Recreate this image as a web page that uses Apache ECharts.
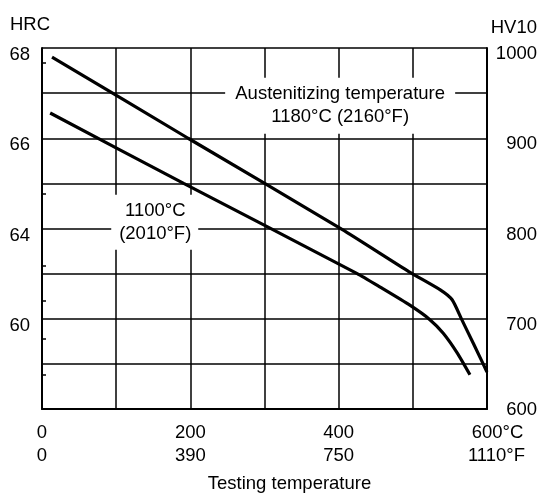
<!DOCTYPE html>
<html>
<head>
<meta charset="utf-8">
<script src="https://cdn.jsdelivr.net/npm/echarts@6/dist/echarts.min.js"></script>
<style>
html,body{margin:0;padding:0;background:#fff;}
#chart{width:541px;height:498px;}
</style>
</head>
<body>
<div id="chart"></div>
<script>
// Testing temperature (°C) and hardness (HV10)
const upperT  = [13.5, 197, 404.5, 495, 537, 553, 566, 582, 600];
const upperHV = [990, 900, 799, 752, 732, 721, 699, 672, 641];
const lowerT  = [11, 191, 425, 456, 496, 523, 541, 560, 577];
const lowerHV = [928, 850, 750, 735, 715, 699, 684, 662, 638];

// Tick labels
const xTicksC = [0, 200, 400, 600];
const xTicksF = ['0', '390', '750', '1110'];
const hvTicks = [600, 700, 800, 900, 1000];
const hrcAt = [1000, 900, 800, 700];
const hrcLabels = ['68', '66', '64', '60'];
const hrcMinor = [984, 839, 759, 720, 678, 638];

// Annotation texts and anchor (°C, HV)
const annUpper = { text: 'Austenitizing temperature\n1180°C (2160°F)', at: [402, 936] };
const annLower = { text: '1100°C\n(2010°F)', at: [152, 807] };

const FONT = 'Liberation Sans, Arial, sans-serif';
const FS = 18.5;

const chart = echarts.init(document.getElementById('chart'), null, { renderer: 'canvas' });

const zip = (a, b) => a.map((v, i) => [v, b[i]]);

const option = {
  animation: false,
  backgroundColor: '#fff',
  textStyle: { fontFamily: FONT, color: '#000' },
  grid: { left: 42, right: 54, top: 48, bottom: 89, containLabel: false, outerBoundsMode: 'none' },
  graphic: [
    { type: 'text', left: 10, top: 15, style: { text: 'HRC', font: FS + 'px ' + FONT, fill: '#000' } },
    { type: 'text', right: 4, top: 18, style: { text: 'HV10', font: FS + 'px ' + FONT, fill: '#000' } }
  ],
  xAxis: {
    type: 'value', min: 0, max: 600, interval: 100,
    name: 'Testing temperature', nameLocation: 'middle', nameGap: 65,
    nameTextStyle: { fontFamily: FONT, fontSize: FS, color: '#000', padding: [0, 0, 0, 50] },
    axisLine: { show: true, lineStyle: { color: '#000', width: 2 } },
    axisTick: { show: false },
    splitLine: { show: true, lineStyle: { color: '#000', width: 1.5 } },
    axisLabel: {
      margin: 12, fontFamily: FONT, fontSize: FS, color: '#000', lineHeight: 23,
      formatter: function (v) {
        const i = xTicksC.indexOf(v);
        if (i < 0) return '';
        if (i === xTicksC.length - 1) {
          return '{pc| }' + xTicksC[i] + '°C\n{pf| }' + xTicksF[i] + '°F';
        }
        return xTicksC[i] + '\n' + xTicksF[i];
      },
      rich: {
        pc: { width: 21, fontSize: FS, lineHeight: 23 },
        pf: { width: 19, fontSize: FS, lineHeight: 23 }
      }
    }
  },
  yAxis: [
    {
      type: 'value', min: 600, max: 1000, interval: 50, position: 'left',
      axisLine: { show: true, lineStyle: { color: '#000', width: 2 } },
      axisTick: { show: false },
      splitLine: { show: true, lineStyle: { color: '#000', width: 1.5 } },
      axisLabel: {
        margin: 12, fontFamily: FONT, fontSize: FS, color: '#000',
        verticalAlign: 'top', lineHeight: 14,
        formatter: function (v) {
          const i = hrcAt.indexOf(v);
          return i < 0 ? '' : hrcLabels[i];
        }
      }
    },
    {
      type: 'value', min: 600, max: 1000, interval: 50, position: 'right',
      axisLine: { show: true, lineStyle: { color: '#000', width: 2 } },
      axisTick: { show: false },
      splitLine: { show: false },
      axisLabel: {
        margin: 50, align: 'right', fontFamily: FONT, fontSize: FS, color: '#000',
        verticalAlign: 'top', lineHeight: 12,
        formatter: function (v) {
          if (hvTicks.indexOf(v) < 0) return '';
          return v === hvTicks[0] ? '{lo|' + v + '}' : String(v);
        },
        rich: {
          lo: { fontFamily: FONT, fontSize: FS, color: '#000', lineHeight: 1, align: 'right' }
        }
      }
    },
    {
      type: 'value', min: 600, max: 1000, position: 'left',
      axisLine: { show: false },
      axisLabel: { show: false },
      splitLine: { show: false },
      axisTick: { show: true, inside: true, length: 4, customValues: hrcMinor, lineStyle: { color: '#000', width: 1.5 } }
    }
  ],
  series: [
    {
      name: '1180°C (2160°F)', type: 'line', data: zip(upperT, upperHV),
      showSymbol: false, smooth: 0.2,
      lineStyle: { color: '#000', width: 3.2 },
      z: 3,
      markPoint: {
        symbol: 'rect', symbolSize: 0, itemStyle: { color: 'rgba(0,0,0,0)' },
        label: {
          show: true, position: 'inside', formatter: annUpper.text,
          fontFamily: FONT, fontSize: FS, color: '#000', lineHeight: 23,
          align: 'center', width: 210,
          backgroundColor: '#fff', padding: [4, 10, 6, 10]
        },
        data: [{ coord: annUpper.at }]
      }
    },
    {
      name: '1100°C (2010°F)', type: 'line', data: zip(lowerT, lowerHV),
      showSymbol: false, smooth: 0.2,
      lineStyle: { color: '#000', width: 3.2 },
      z: 3,
      markPoint: {
        symbol: 'rect', symbolSize: 0, itemStyle: { color: 'rgba(0,0,0,0)' },
        label: {
          show: true, position: 'inside', formatter: annLower.text,
          fontFamily: FONT, fontSize: FS, color: '#000', lineHeight: 23,
          align: 'center', width: 72,
          backgroundColor: '#fff', padding: [7, 7, 2, 8]
        },
        data: [{ coord: annLower.at }]
      }
    }
  ]
};

chart.setOption(option);
</script>
</body>
</html>
